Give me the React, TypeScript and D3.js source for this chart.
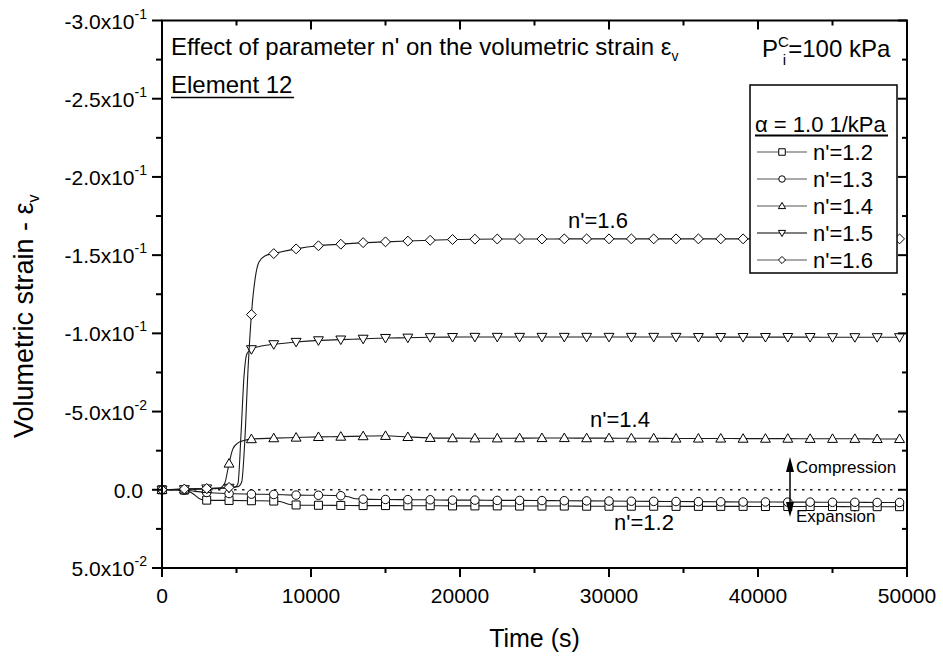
import React from "react";
import * as d3 from "d3";

// ---------- data ----------
const times = [0, 1500, 3000, 4500, 6000, 7500, 9000, 10500, 12000, 13500, 15000, 16500, 18000, 19500, 21000, 22500, 24000, 25500, 27000, 28500, 30000, 31500, 33000, 34500, 36000, 37500, 39000, 40500, 42000, 43500, 45000, 46500, 48000, 49500];

const n12 = [0, 0.0002, 0.0066, 0.0068, 0.0070, 0.0072, 0.0097, 0.0099, 0.0100, 0.0101, 0.0101, 0.0102, 0.0102, 0.0103, 0.0103, 0.0103, 0.0104, 0.0104, 0.0104, 0.0105, 0.0105, 0.0105, 0.0105, 0.0106, 0.0106, 0.0106, 0.0106, 0.0107, 0.0107, 0.0107, 0.0107, 0.0108, 0.0108, 0.0108];
const n13 = [0, 0.0002, 0.0017, 0.0024, 0.0028, 0.0030, 0.0034, 0.0035, 0.0038, 0.0060, 0.0062, 0.0063, 0.0064, 0.0066, 0.0066, 0.0068, 0.0068, 0.0069, 0.0070, 0.0071, 0.0072, 0.0073, 0.0074, 0.0075, 0.0076, 0.0077, 0.0078, 0.0078, 0.0079, 0.0079, 0.0080, 0.0080, 0.0081, 0.0081];
const n14 = [0, -0.0003, -0.0006, -0.0168, -0.0324, -0.0330, -0.0334, -0.0338, -0.0340, -0.0343, -0.0345, -0.0338, -0.0332, -0.0330, -0.0329, -0.0329, -0.0330, -0.0331, -0.0331, -0.0330, -0.0330, -0.0329, -0.0329, -0.0328, -0.0328, -0.0328, -0.0327, -0.0327, -0.0327, -0.0326, -0.0326, -0.0326, -0.0325, -0.0325];
const n15 = [0, -0.0003, -0.0008, -0.0012, -0.0898, -0.0930, -0.0945, -0.0955, -0.0960, -0.0965, -0.0970, -0.0972, -0.0975, -0.0976, -0.0977, -0.0977, -0.0977, -0.0977, -0.0977, -0.0977, -0.0977, -0.0977, -0.0977, -0.0977, -0.0976, -0.0976, -0.0976, -0.0976, -0.0976, -0.0976, -0.0975, -0.0975, -0.0975, -0.0975];
const n16 = [0, -0.0005, -0.0008, -0.0015, -0.1120, -0.1510, -0.1540, -0.1560, -0.1570, -0.1580, -0.1585, -0.1590, -0.1595, -0.1600, -0.1602, -0.1603, -0.1603, -0.1603, -0.1604, -0.1604, -0.1604, -0.1604, -0.1604, -0.1604, -0.1604, -0.1604, -0.1604, -0.1604, -0.1604, -0.1604, -0.1604, -0.1604, -0.1604, -0.1604];

// extra line-only points (no symbol) read from the steep parts of the curves
const extra12: [number, number][] = [[2000, 0.0020], [2600, 0.0060], [8000, 0.0077], [8500, 0.0092]];
const extra13: [number, number][] = [[2200, 0.0010], [12500, 0.0045], [13000, 0.0057]];
const extra14: [number, number][] = [[3800, -0.0008], [4200, -0.0040], [4750, -0.0260], [5100, -0.0300], [5500, -0.0315]];
const extra15: [number, number][] = [[4900, -0.0016], [5100, -0.0040], [5300, -0.0350], [5500, -0.0720], [5700, -0.0870], [6600, -0.0918]];
const extra16: [number, number][] = [[5100, -0.0020], [5350, -0.0050], [5550, -0.0300], [5780, -0.0780], [6250, -0.1350], [6500, -0.1455], [6900, -0.1495]];

const seriesNames = ["n'=1.2", "n'=1.3", "n'=1.4", "n'=1.5", "n'=1.6"];
const seriesShapes = ["square", "circle", "triangleUp", "triangleDown", "diamond"];

const xTicks = [0, 10000, 20000, 30000, 40000, 50000];
const xMinorTicks = [5000, 15000, 25000, 35000, 45000];
const yTicks = [-0.3, -0.25, -0.2, -0.15, -0.1, -0.05, 0, 0.05];
const yMinorTicks = [-0.275, -0.225, -0.175, -0.125, -0.075, -0.025, 0.025];
const yTickMantissa = ["-3.0x10", "-2.5x10", "-2.0x10", "-1.5x10", "-1.0x10", "-5.0x10", "0.0", "5.0x10"];
const yTickExponent = ["-1", "-1", "-1", "-1", "-1", "-2", "", "-2"];

// ---------- chart ----------
const W = 943;
const H = 656;
const FONT = "'Liberation Sans', Arial, Helvetica, sans-serif";

const x = d3.scaleLinear().domain([0, 50000]).range([162, 907]);
const y = d3.scaleLinear().domain([-0.3, 0.05]).range([20.5, 568]);

function markerPath(shape: string, s: number): string {
  const h = s / 2;
  switch (shape) {
    case "square":
      return `M${-h},${-h}H${h}V${h}H${-h}Z`;
    case "circle":
      return `M${h},0A${h},${h} 0 1,1 ${-h},0A${h},${h} 0 1,1 ${h},0Z`;
    case "triangleUp":
      return `M0,${-h * 1.1}L${h * 1.1},${h * 0.8}L${-h * 1.1},${h * 0.8}Z`;
    case "triangleDown":
      return `M0,${h * 1.1}L${h * 1.1},${-h * 0.8}L${-h * 1.1},${-h * 0.8}Z`;
    case "diamond":
    default:
      return `M0,${-h * 1.1}L${h * 1.1},0L0,${h * 1.1}L${-h * 1.1},0Z`;
  }
}

const markerSize: Record<string, number> = {
  square: 8,
  circle: 8.5,
  triangleUp: 9,
  triangleDown: 9,
  diamond: 9,
};

export default function App() {
  const values = [n12, n13, n14, n15, n16];
  const extras = [extra12, extra13, extra14, extra15, extra16];

  const line = d3
    .line<[number, number]>()
    .x((d) => x(d[0]))
    .y((d) => y(d[1]))
    .curve(d3.curveMonotoneX);

  const series = values.map((vals, i) => {
    const pts: [number, number][] = times.map((t, j) => [t, vals[j]] as [number, number]);
    const all = pts.concat(extras[i]).sort((a, b) => a[0] - b[0]);
    return { name: seriesNames[i], shape: seriesShapes[i], pts, all };
  });

  const left = x(0);
  const right = x(50000);
  const top = y(-0.3);
  const bottom = y(0.05);

  const legendRows = [152, 179, 206, 233, 260];

  return (
    <svg
      width={W}
      height={H}
      viewBox={`0 0 ${W} ${H}`}
      style={{ position: "absolute", left: 0, top: 0, background: "#fff" }}
      fontFamily={FONT}
    >
      <rect x={0} y={0} width={W} height={H} fill="#fff" />

      {/* zero reference line */}
      <line x1={left} x2={right} y1={y(0)} y2={y(0)} stroke="#222" strokeWidth={1.5} strokeDasharray="2.5,5.5" />

      {/* series */}
      {series.map((s) => (
        <g key={s.name}>
          <path d={line(s.all) || ""} fill="none" stroke="#1a1a1a" strokeWidth={1.1} />
          {s.pts.map((p, j) => (
            <path
              key={j}
              d={markerPath(s.shape, markerSize[s.shape])}
              transform={`translate(${x(p[0])},${y(p[1])})`}
              fill="#fff"
              stroke="#000"
              strokeWidth={1}
            />
          ))}
        </g>
      ))}

      {/* axes frame */}
      <rect x={left} y={top} width={right - left} height={bottom - top} fill="none" stroke="#000" strokeWidth={2} />

      {/* x ticks: bottom outward, top inward */}
      {xTicks.map((t) => (
        <g key={"xt" + t}>
          <line x1={x(t)} x2={x(t)} y1={bottom} y2={bottom + 9} stroke="#000" strokeWidth={2} />
          <line x1={x(t)} x2={x(t)} y1={top} y2={top + 9} stroke="#000" strokeWidth={2} />
          <text x={x(t)} y={603} fontSize={21} textAnchor="middle" fill="#000">
            {t}
          </text>
        </g>
      ))}
      {xMinorTicks.map((t) => (
        <g key={"xm" + t}>
          <line x1={x(t)} x2={x(t)} y1={bottom} y2={bottom + 5} stroke="#000" strokeWidth={2} />
          <line x1={x(t)} x2={x(t)} y1={top} y2={top + 5} stroke="#000" strokeWidth={2} />
        </g>
      ))}

      {/* y ticks: left outward, right inward */}
      {yTicks.map((v, i) => (
        <g key={"yt" + i}>
          <line x1={left - 10} x2={left} y1={y(v)} y2={y(v)} stroke="#000" strokeWidth={2} />
          <line x1={right - 9} x2={right} y1={y(v)} y2={y(v)} stroke="#000" strokeWidth={2} />
          <text x={yTickExponent[i] ? 147 : 143} y={y(v) + 8} fontSize={21} textAnchor="end" fill="#000">
            {yTickMantissa[i]}
            {yTickExponent[i] ? (
              <tspan fontSize={14} dy={-10}>
                {yTickExponent[i]}
              </tspan>
            ) : null}
          </text>
        </g>
      ))}
      {yMinorTicks.map((v, i) => (
        <g key={"ym" + i}>
          <line x1={left - 6} x2={left} y1={y(v)} y2={y(v)} stroke="#000" strokeWidth={2} />
          <line x1={right - 5} x2={right} y1={y(v)} y2={y(v)} stroke="#000" strokeWidth={2} />
        </g>
      ))}

      {/* axis titles */}
      <text x={534.5} y={647} fontSize={25} textAnchor="middle" fill="#000">
        Time (s)
      </text>
      <text transform="translate(33,438) rotate(-90)" fontSize={27} textAnchor="start" fill="#000">
        Volumetric strain - ε
        <tspan fontSize={16} dy={6}>
          v
        </tspan>
      </text>

      {/* in-plot titles */}
      <text x={171} y={55} fontSize={24} fill="#000">
        Effect of parameter n' on the volumetric strain ε
        <tspan fontSize={14} dy={6}>
          v
        </tspan>
      </text>
      <text x={171} y={93} fontSize={24} fill="#000">
        Element 12
      </text>
      <line x1={171} x2={294} y1={97.5} y2={97.5} stroke="#000" strokeWidth={1.6} />

      <text x={762} y={57} fontSize={24} fill="#000">
        P
        <tspan fontSize={15} dy={-10}>
          C
        </tspan>
        <tspan fontSize={15} dx={-6} dy={18}>
          i
        </tspan>
        <tspan dx={2} dy={-8}>
          =100 kPa
        </tspan>
      </text>

      {/* curve labels */}
      <text x={568} y={228} fontSize={22} fill="#000">
        n'=1.6
      </text>
      <text x={590} y={427} fontSize={22} fill="#000">
        n'=1.4
      </text>
      <text x={614} y={530} fontSize={22} fill="#000">
        n'=1.2
      </text>

      {/* compression / expansion arrow */}
      <line x1={790} x2={790} y1={466} y2={508} stroke="#000" strokeWidth={1.5} />
      <path d="M790,457L794,472L786,472Z" fill="#000" />
      <path d="M790,517L794,502L786,502Z" fill="#000" />
      <text x={796} y={473} fontSize={17} fill="#000">
        Compression
      </text>
      <text x={796} y={522} fontSize={17} fill="#000">
        Expansion
      </text>

      {/* legend */}
      <rect x={750} y={85} width={147} height={188} fill="#fff" stroke="#000" strokeWidth={1.5} />
      <text x={755} y={132} fontSize={22} fill="#000">
        α = 1.0 1/kPa
      </text>
      <line x1={755} x2={888} y1={135.5} y2={135.5} stroke="#000" strokeWidth={2} />
      {series.map((s, i) => (
        <g key={"lg" + s.name}>
          <line x1={757} x2={807} y1={legendRows[i]} y2={legendRows[i]} stroke={i === 3 ? "#000" : "#555"} strokeWidth={1.2} />
          <path
            d={markerPath(s.shape, 6.5)}
            transform={`translate(782,${legendRows[i]})`}
            fill="#fff"
            stroke="#000"
            strokeWidth={1}
          />
          <text x={813} y={legendRows[i] + 8} fontSize={22} fill="#000">
            {s.name}
          </text>
        </g>
      ))}
    </svg>
  );
}
